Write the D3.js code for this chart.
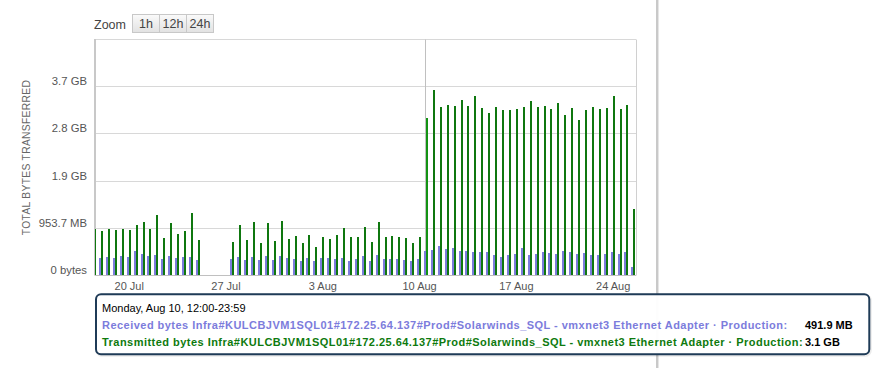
<!DOCTYPE html>
<html><head><meta charset="utf-8">
<script src="https://cdn.jsdelivr.net/npm/d3@7"></script>
<style>
html,body{margin:0;padding:0;background:#fff;}
svg{display:block;font-family:"Liberation Sans",Arial,sans-serif;}
</style></head><body>
<svg id="chart" width="877" height="368"></svg>
<script>
// ---------- data ----------
const firstSlot = "2015-07-17T12:00:00Z";   // half-day slots (00:00-11:59, 12:00-23:59)
const slotHours = 12;
// values in units of 1e9 bytes
const receivedBytes = [0.37,
  0.37,0.39,0.37,0.41,0.39,0.52,0.455,0.41,0.43,0.35,0.41,0.37,0.39,0.39,0.33,
  null,null,null,null,
  0.35,0.39,0.33,0.39,0.33,0.41,
  0.33,0.41,0.37,0.35,0.31,0.37,0.31,0.37,0.37,0.35,0.37,0.31,0.35,0.41,0.31,0.435,0.35,0.35,0.35,0.33,0.31,0.35,
  0.516,0.54,0.625,0.56,0.58,0.52,0.52,0.50,0.50,0.50,
  0.43,0.39,0.43,0.455,0.58,0.43,0.455,0.50,0.48,0.455,
  0.52,0.50,0.455,0.48,0.43,0.43,0.455,0.50,0.455,0.50,
  0.18];
const transmittedBytes = [0.98,
  0.94,0.985,0.96,0.985,0.96,1.07,1.13,0.985,1.28,0.79,1.11,0.88,0.94,1.32,0.75,
  null,null,null,null,
  0.71,1.07,0.75,1.13,0.69,1.11,
  0.73,1.15,0.77,0.84,0.69,0.86,0.60,0.82,0.77,0.86,1.01,0.82,0.82,1.03,0.71,1.13,0.82,0.84,0.82,0.79,0.69,0.82,
  3.33,3.93,3.57,3.61,3.59,3.72,3.59,3.80,3.55,3.44,
  3.57,3.51,3.51,3.53,3.57,3.70,3.57,3.59,3.53,3.65,
  3.40,3.55,3.29,3.51,3.57,3.53,3.55,3.80,3.53,3.61,
  1.41];
const yTickValues = [0, 1, 2, 3, 4];
const yMax = 5;
const xDomain = ["2015-07-17T13:30:00Z", "2015-08-25T16:30:00Z"];
const hoveredSlot = "2015-08-10T12:00:00Z";
const zoomButtons = ["1h", "12h", "24h"];
const yAxisTitle = "TOTAL BYTES TRANSFERRED";
const seriesNames = [
  "Received bytes Infra#KULCBJVM1SQL01#172.25.64.137#Prod#Solarwinds_SQL - vmxnet3 Ethernet Adapter \u00b7 Production:",
  "Transmitted bytes Infra#KULCBJVM1SQL01#172.25.64.137#Prod#Solarwinds_SQL - vmxnet3 Ethernet Adapter \u00b7 Production:"
];
const seriesColors = ["#7c7cdc", "#0f770f"];
const tooltipHeader = "Monday, Aug 10, 12:00-23:59";
const tooltipValues = ["491.9 MB", "3.1 GB"];

// ---------- layout ----------
const plot = {left: 95, right: 636, top: 39.5, bottom: 275.5};
const svg = d3.select("#chart");

const t0 = new Date(firstSlot).getTime();
const times = receivedBytes.map((_, i) => new Date(t0 + i * slotHours * 3600e3));

const x = d3.scaleUtc().domain(xDomain.map(d => new Date(d))).range([plot.left, plot.right]);
const y = d3.scaleLinear().domain([0, yMax]).range([plot.bottom, plot.top]);

function fmtBytes(v) {
  const b = v * 1e9;
  if (b === 0) return "0 bytes";
  if (b < 1073741824) return (b / 1048576).toFixed(1) + " MB";
  return (b / 1073741824).toFixed(1) + " GB";
}

// page separator on the right
svg.append("rect").attr("x", 656).attr("y", 0).attr("width", 2).attr("height", 368).attr("fill", "#c9c9c9");
svg.append("rect").attr("x", 658).attr("y", 0).attr("width", 1).attr("height", 368).attr("fill", "#e6e6e6");

// range selector
svg.append("text").attr("x", 94).attr("y", 29).attr("font-size", 12.5).attr("fill", "#444").text("Zoom");
const grad = svg.append("defs").append("linearGradient").attr("id", "btn").attr("x1", 0).attr("x2", 0).attr("y1", 0).attr("y2", 1);
grad.append("stop").attr("offset", "0%").attr("stop-color", "#fafafa");
grad.append("stop").attr("offset", "100%").attr("stop-color", "#e2e2e2");
const btnW = 27;
const btn = svg.append("g").selectAll("g").data(zoomButtons).join("g")
  .attr("transform", (d, i) => `translate(${132.5 + i * btnW},14.5)`);
btn.append("rect").attr("width", btnW).attr("height", 18).attr("fill", "url(#btn)").attr("stroke", "#c8c8c8");
btn.append("text").attr("x", btnW / 2).attr("y", 13.5).attr("text-anchor", "middle")
  .attr("font-size", 12.5).attr("fill", "#444").text(d => d);

// gridlines
svg.append("g").selectAll("line").data(yTickValues.concat([yMax])).join("line")
  .attr("x1", plot.left).attr("x2", plot.right)
  .attr("y1", d => Math.floor(y(d)) + 0.5).attr("y2", d => Math.floor(y(d)) + 0.5)
  .attr("stroke", d => d === 0 ? "#c0c0c0" : "#d8d8d8");
// right border
svg.append("line").attr("x1", plot.right + 0.5).attr("x2", plot.right + 0.5)
  .attr("y1", plot.top).attr("y2", plot.bottom).attr("stroke", "#d0d0d0");

// y labels
svg.append("g").selectAll("text").data(yTickValues).join("text")
  .attr("x", 87).attr("y", d => Math.floor(y(d)) - 1.5)
  .attr("text-anchor", "end").attr("font-size", 11.3).attr("fill", "#555")
  .text(fmtBytes);

// y title
svg.append("text").attr("transform", `translate(30,${(plot.top + plot.bottom) / 2}) rotate(-90)`)
  .attr("text-anchor", "middle").attr("font-size", 10.3).attr("fill", "#666")
  .attr("letter-spacing", 0.3).text(yAxisTitle);

// x labels
const xAxis = d3.axisBottom(x).tickValues(d3.utcMonday.range(new Date(xDomain[0]), new Date(xDomain[1])))
  .tickFormat(d3.utcFormat("%-d %b")).tickSize(0).tickPadding(0);
const gx = svg.append("g").attr("transform", `translate(0,${plot.bottom})`).call(xAxis);
gx.select(".domain").remove();
gx.selectAll("text").attr("dy", null).attr("y", 14.5).attr("font-size", 11).attr("fill", "#555")
  .attr("font-family", "Liberation Sans, Arial, sans-serif");

// crosshair
const hoverT = new Date(hoveredSlot).getTime();
svg.append("line").attr("x1", Math.round(x(new Date(hoverT))) - 0.5).attr("x2", Math.round(x(new Date(hoverT))) - 0.5)
  .attr("y1", plot.top).attr("y2", plot.bottom - 0.5).attr("stroke", "#c0c0c0");

// left axis line
svg.append("rect").attr("x", plot.left - 1).attr("y", plot.top - 0.5).attr("width", 2)
  .attr("height", plot.bottom - plot.top + 0.5).attr("fill", "#c8c8c8");

// bars
svg.append("clipPath").attr("id", "clip").append("rect")
  .attr("x", plot.left).attr("y", 0).attr("width", plot.right - plot.left + 1).attr("height", 368);
const barsG = svg.append("g").attr("clip-path", "url(#clip)");
const base = Math.floor(plot.bottom);
const rows = times.map((t, i) => ({t, r: receivedBytes[i], s: transmittedBytes[i]}));
barsG.selectAll("rect.r").data(rows.filter(d => d.r != null)).join("rect").attr("class", "r")
  .attr("x", d => Math.round(x(d.t)) - 2).attr("width", 2)
  .attr("y", d => Math.round(y(d.r))).attr("height", d => base - Math.round(y(d.r)))
  .attr("fill", seriesColors[0]);
barsG.selectAll("rect.s").data(rows.filter(d => d.s != null)).join("rect").attr("class", "s")
  .attr("x", d => Math.round(x(d.t))).attr("width", 2)
  .attr("y", d => Math.round(y(d.s))).attr("height", d => base - Math.round(y(d.s)))
  .attr("fill", d => d.t.getTime() === hoverT ? d3.color(seriesColors[1]).brighter(0.6) : seriesColors[1]);

// tooltip
const tt = svg.append("g");
tt.append("rect").attr("x", 97).attr("y", 295.3).attr("width", 773.3).attr("height", 60).attr("rx", 5)
  .attr("fill", "none").attr("stroke", "rgba(0,0,0,0.08)").attr("stroke-width", 3);
tt.append("rect").attr("x", 96).attr("y", 294.3).attr("width", 773.3).attr("height", 60).attr("rx", 5)
  .attr("fill", "rgba(255,255,255,0.96)").attr("stroke", "#1f3b57").attr("stroke-width", 2);
tt.append("text").attr("x", 102).attr("y", 312).attr("font-size", 11).attr("fill", "#000").text(tooltipHeader);
seriesNames.forEach((name, i) => {
  const yy = 329 + i * 16.5;
  tt.append("text").attr("x", 102).attr("y", yy).attr("font-size", 11).attr("font-weight", "bold")
    .attr("letter-spacing", 0.47)
    .attr("fill", i === 0 ? seriesColors[0] : "#0e7a0e").text(name);
  tt.append("text").attr("x", 805).attr("y", yy).attr("font-size", 11).attr("font-weight", "bold")
    .attr("fill", "#000").text(tooltipValues[i]);
});
</script>
</body></html>
